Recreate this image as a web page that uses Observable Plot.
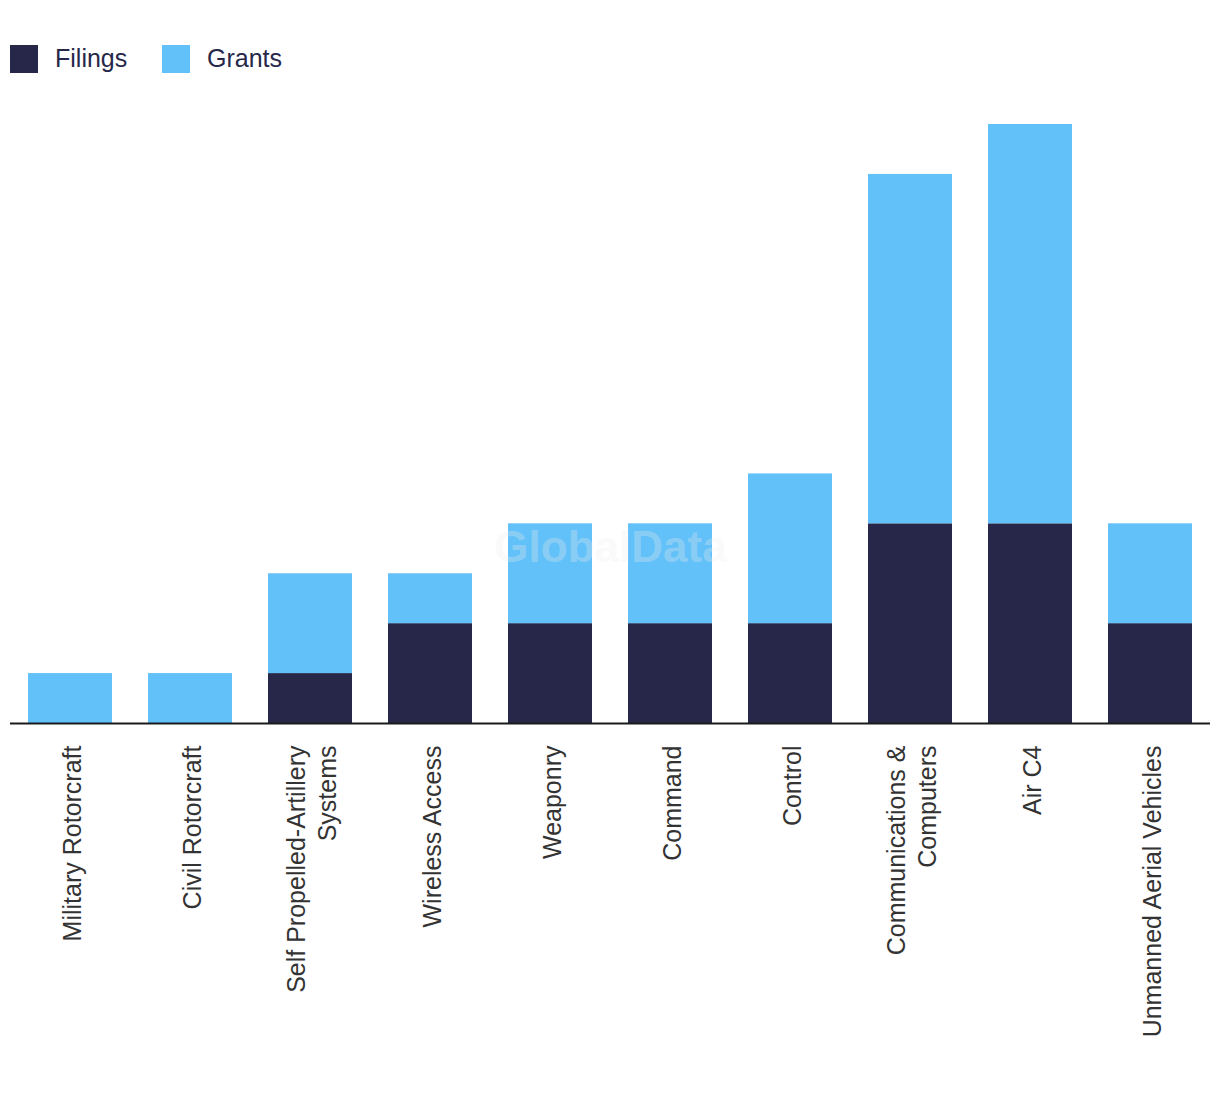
<!DOCTYPE html>
<html>
<head>
<meta charset="utf-8">
<script src="https://cdn.jsdelivr.net/npm/d3@7"></script>
<script src="https://cdn.jsdelivr.net/npm/@observablehq/plot@0.6"></script>
<style>
  body { margin: 0; background: #fff; font-family: "Liberation Sans", Arial, sans-serif; }
  #legend { position: relative; height: 100px; width: 1220px; }
  .sw { position: absolute; top: 45px; width: 28px; height: 28px; }
  .lab { position: absolute; top: 42px; font-size: 25px; color: #272849; line-height: 32px; }
</style>
</head>
<body>
<div id="legend">
  <div class="sw" style="left:10px;background:#272849"></div><div class="lab" style="left:55px">Filings</div>
  <div class="sw" style="left:162px;background:#62c1f9"></div><div class="lab" style="left:207px">Grants</div>
</div>
<div id="chart"></div>
<script>
const categories = ["Military Rotorcraft", "Civil Rotorcraft", "Self Propelled-Artillery\nSystems", "Wireless Access", "Weaponry", "Command", "Control", "Communications &\nComputers", "Air C4", "Unmanned Aerial Vehicles"];
const filings = [0, 0, 1, 2, 2, 2, 2, 4, 4, 2];
const grants  = [1, 1, 2, 1, 2, 2, 3, 7, 8, 2];
const seriesNames = ["Filings", "Grants"];
const seriesColors = ["#272849", "#62c1f9"];

const rows = [];
categories.forEach((c, i) => {
  rows.push({category: c, series: "Filings", value: filings[i]});
  rows.push({category: c, series: "Grants", value: grants[i]});
});

const chart = Plot.plot({
  width: 1220,
  height: 994,
  marginTop: 24,
  marginBottom: 371,
  marginLeft: 10,
  marginRight: 10,
  style: {fontFamily: "'Liberation Sans', Arial, sans-serif", background: "#fff"},
  x: {domain: categories, paddingInner: 0.3, paddingOuter: 0.15, axis: null},
  y: {domain: [0, 12], axis: null},
  color: {domain: seriesNames, range: seriesColors},
  marks: [
    Plot.barY(rows, Plot.stackY({x: "category", y: "value", fill: "series", order: seriesNames})),
    Plot.text(["GlobalData"], {frameAnchor: "middle", dy: 124, text: d => d, fontSize: 44, fontWeight: "bold", fill: "#eeeeee", fillOpacity: 0.3}),
    Plot.ruleY([0], {stroke: "#1a1a1a", strokeWidth: 2}),
    Plot.text(categories, {x: d => d, frameAnchor: "bottom", dy: 22, rotate: -90, textAnchor: "end", lineAnchor: "middle", lineHeight: 1.25, fontSize: 25, fill: "#333", text: d => d})
  ]
});
document.getElementById("chart").appendChild(chart);
</script>
</body>
</html>
